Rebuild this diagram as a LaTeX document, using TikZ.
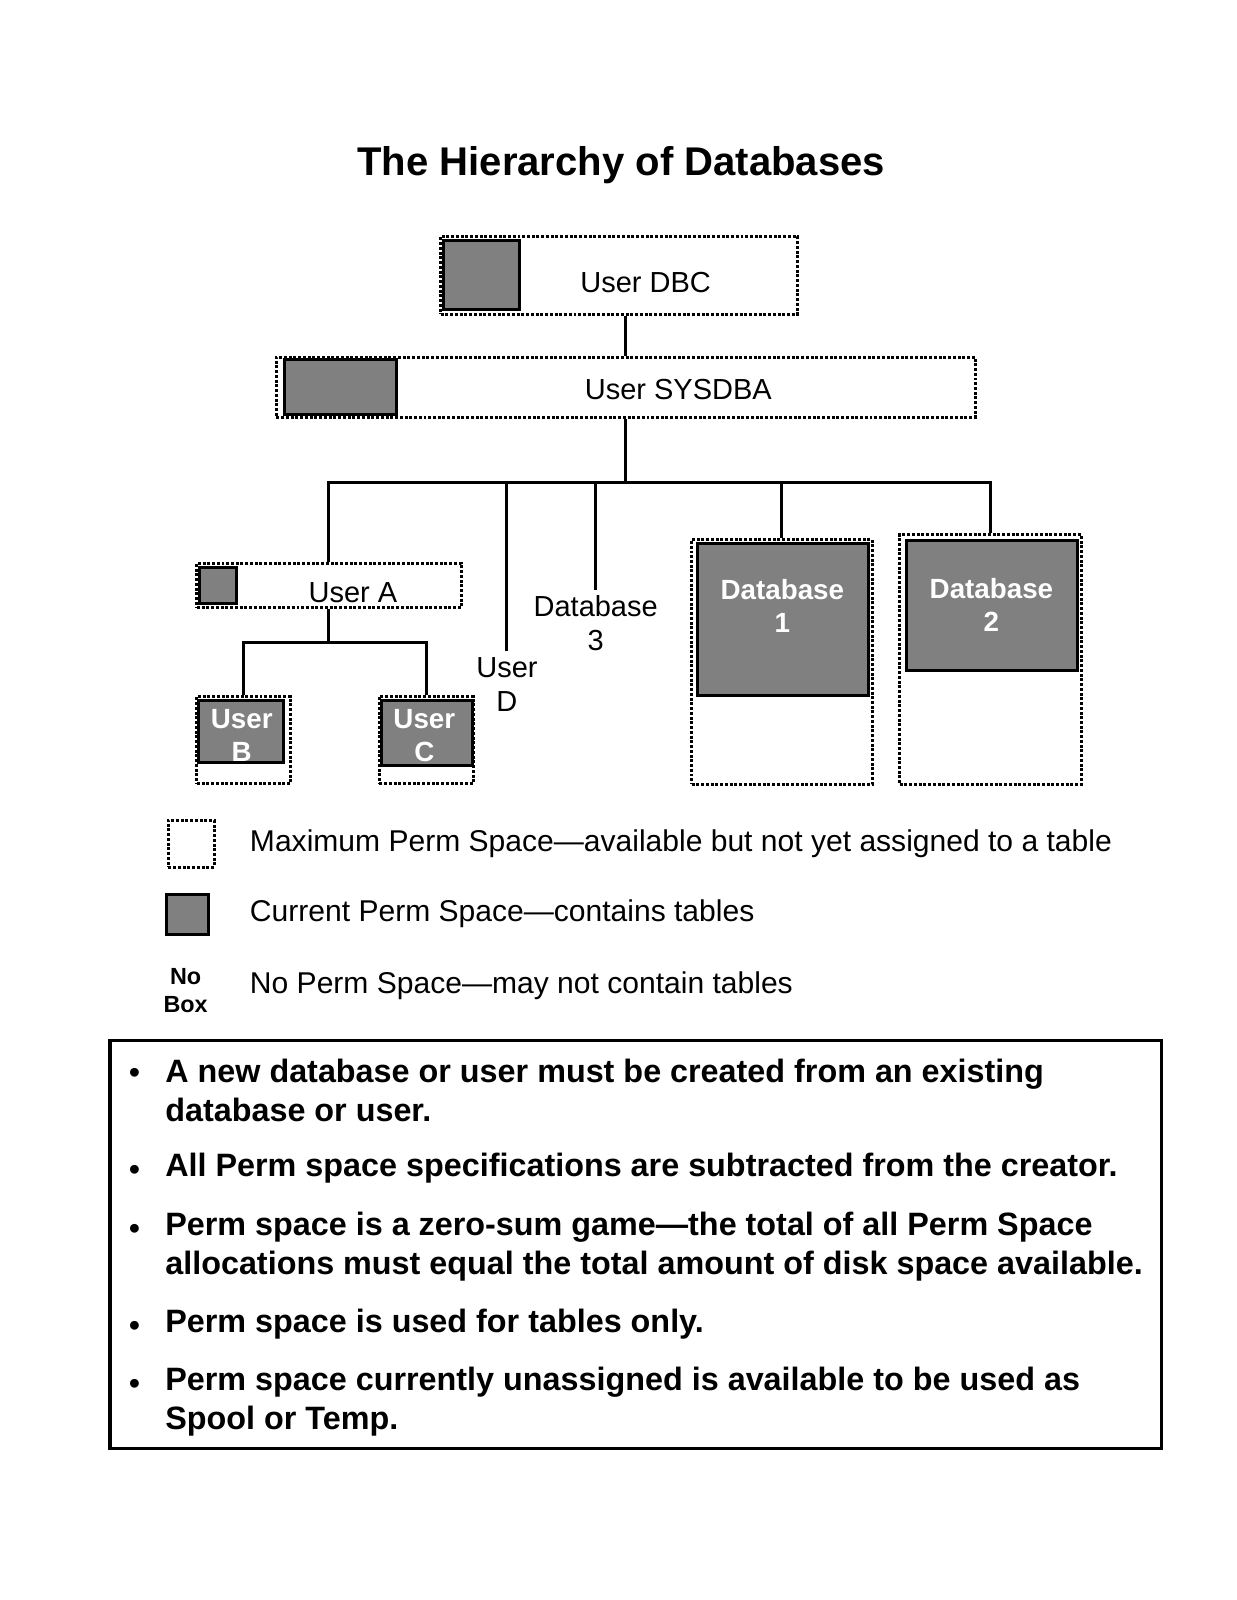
\documentclass[tikz,border=0pt]{standalone}
\usepackage{fontspec}
\setmainfont{Liberation Sans}
\usetikzlibrary{fit}

\begin{document}
\begin{tikzpicture}[x=0.0204cm, y=-0.0204cm,
    maxbox/.style={draw, densely dotted, line width=1.7pt, inner sep=0pt},
    curbox/.style={draw, fill=black!50, line width=1.7pt, inner sep=0pt},
    link/.style={line width=1.7pt},
    lbl/.style={font=\fontsize{16.5}{19.1}\selectfont, align=center},
    wlbl/.style={text=white, font=\bfseries\fontsize{15.8}{18.9}\selectfont, align=center},
    legtxt/.style={anchor=west, font=\fontsize{17.1}{20.4}\selectfont},
    itemtxt/.style={anchor=west, align=left, font=\bfseries\fontsize{18.4}{21.9}\selectfont}]
    \useasboundingbox (0,0) rectangle (1211.8,1568.6);

    % Titulo
    \node[font=\bfseries\fontsize{22.8}{26.5}\selectfont] (title) at (609,162) {The Hierarchy of Databases};

    % Cajas
    \node[maxbox, fit={(432,232) (782,308)}] (dbc) {};
    \node[curbox, fit={(435,236) (509,303)}] (dbcin) {};
    \node[lbl] (dbctxt) at (633,277) {User DBC};

    \node[maxbox, fit={(271,350) (956,409)}] (sysdba) {};
    \node[curbox, fit={(279,352) (389,406)}] (sysdbain) {};
    \node[lbl] (sysdbatxt) at (665,382) {User SYSDBA};

    \node[maxbox, fit={(193,552) (452,596)}] (usera) {};
    \node[curbox, fit={(196,556) (232,592)}] (userain) {};
    \node[lbl] (useratxt) at (346,581) {User A};

    \node[maxbox, fit={(193,683) (285,768)}] (userb) {};
    \node[curbox, fit={(195,687) (278,748)}] (userbin) {};
    \node[wlbl] (userbtxt) at (237,721) {User\\B};

    \node[maxbox, fit={(372,683) (464,768)}] (userc) {};
    \node[curbox, fit={(374,687) (463,750)}] (usercin) {};
    \node[wlbl] (userctxt) at (416,721) {User\\C};

    \node[lbl] (userd) at (497,671) {User\\D};
    \node[lbl] (db3) at (584,611) {Database\\3};

    \node[maxbox, fit={(678,529) (855,769)}] (db1) {};
    \node[curbox, fit={(684,533) (851,682)}] (db1in) {};
    \node[wlbl] (db1txt) at (767,594) {Database\\1};

    \node[maxbox, fit={(882,524) (1060,769)}] (db2) {};
    \node[curbox, fit={(889,530) (1056,657)}] (db2in) {};
    \node[wlbl] (db2txt) at (972,593) {Database\\2};

    % Lineas
    \coordinate (bus) at (616,473);
    \draw[link] (sysdba.north |- dbc.south) -- (sysdba.north);
    \draw[link] (sysdba.south) -- (sysdba.south |- bus);
    \draw[link] (usera.north) |- (bus) -| (db2.north);
    \draw[link] (bus -| userd.north) -- (userd.north);
    \draw[link] (bus -| db3.north) -- (db3.north);
    \draw[link] (bus -| db1.north) -- (db1.north);
    \draw[link] (usera.south) -- ++(0,32) coordinate (abus);
    \draw[link] (userb.north) |- (abus) -| (userc.north);

    % Leyenda
    \node[maxbox, fit={(165,804) (210,850)}] (legmax) {};
    \node[curbox, fit={(163,877) (204,916)}] (legcur) {};
    \node[font=\bfseries\fontsize{13.3}{16.3}\selectfont, align=center] (legnone) at (182,971) {No\\Box};
    \node[legtxt] (legmaxtxt) at (239,827) {Maximum Perm Space—available but not yet assigned to a table};
    \node[legtxt] (legcurtxt) at (239,896) {Current Perm Space—contains tables};
    \node[legtxt] (legnonetxt) at (239,966) {No Perm Space—may not contain tables};

    % Notas
    \node[draw, line width=1.9pt, inner sep=0pt, fit={(108,1020) (1139,1420)}] (notes) {};
    \foreach \y/\n in {1050/b1, 1145/b2, 1203/b3, 1298/b4, 1355/b5}
        \node[font=\fontsize{18.4}{21.9}\selectfont] (\n) at (132,\y+5) {•};
    \node[itemtxt] (item1) at (156,1069) {A new database or user must be created from an existing\\database or user.};
    \node[itemtxt] (item2) at (156,1145) {All Perm space specifications are subtracted from the creator.};
    \node[itemtxt] (item3) at (156,1222) {Perm space is a zero-sum game—the total of all Perm Space\\allocations must equal the total amount of disk space available.};
    \node[itemtxt] (item4) at (156,1298) {Perm space is used for tables only.};
    \node[itemtxt] (item5) at (156,1374) {Perm space currently unassigned is available to be used as\\Spool or Temp.};
\end{tikzpicture}
\end{document}
